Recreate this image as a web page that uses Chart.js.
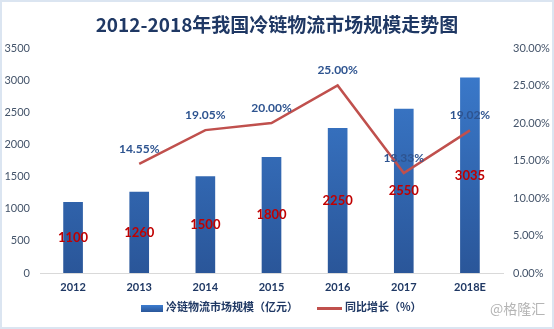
<!DOCTYPE html>
<html>
<head>
<meta charset="utf-8">
<script src="https://cdn.jsdelivr.net/npm/chart.js@4.4.1/dist/chart.umd.min.js"></script>
<style>
  html, body { margin: 0; padding: 0; background: #fff; }
  #wrap { position: relative; width: 554px; height: 329px; overflow: hidden; }
  #frame { position: absolute; left: 0; top: 0; width: 554px; height: 329px; box-sizing: border-box;
           border: 2px solid #dbe5f1; pointer-events: none; }
  #title { position: absolute; left: 0; width: 554px; top: 10px; text-align: center;
           font: bold 19px "Noto Sans CJK SC", "Noto Sans", sans-serif; color: #1f3864; }
  .legend { position: absolute; top: 298px; font: bold 11px "Noto Sans CJK SC", sans-serif; color: #1f3864;
            white-space: nowrap; }
  .legend span.box { display: inline-block; width: 22px; height: 7px; vertical-align: middle;
                     background: linear-gradient(#3c7dd0, #2a5699); margin-right: 3px; }
  .legend span.ln { display: inline-block; width: 25px; height: 3px; vertical-align: middle;
                    background: #c0504d; margin-right: 3px; }
  #mark { position: absolute; left: 490px; top: 298px; font: 14px "Noto Sans CJK SC", sans-serif; color: #b5b5b5; }
</style>
</head>
<body>
<div id="wrap">
  <canvas id="chart" width="554" height="329"></canvas>
  <div id="title">2012-2018年我国冷链物流市场规模走势图</div>
  <div class="legend" style="left:141px"><span class="box"></span>冷链物流市场规模（亿元）</div>
  <div class="legend" style="left:317px"><span class="ln"></span>同比增长（%）</div>
  <div id="mark">@格隆汇</div>
  <div id="frame"></div>
</div>
<script>
const years = ["2012", "2013", "2014", "2015", "2016", "2017", "2018E"];
const marketSize = [1100, 1260, 1500, 1800, 2250, 2550, 3035];
const growthRate = [null, 0.1455, 0.1905, 0.2, 0.25, 0.1333, 0.1902];

const valueLabels = {
  id: "valueLabels",
  afterDatasetsDraw(chart) {
    const ctx = chart.ctx;
    ctx.save();
    ctx.textAlign = "center";
    ctx.textBaseline = "middle";

    // bar values, in the middle of each bar
    ctx.font = "bold 13px Lato, sans-serif";
    ctx.fillStyle = "#c00000";
    chart.getDatasetMeta(0).data.forEach(function (bar, i) {
      ctx.fillText(marketSize[i], bar.x, (bar.y + bar.base) / 2);
    });

    // growth rate above the line points
    ctx.font = "bold 12px Lato, sans-serif";
    ctx.fillStyle = "#2e5490";
    chart.getDatasetMeta(1).data.forEach(function (pt, i) {
      if (growthRate[i] === null) return;
      ctx.fillText((growthRate[i] * 100).toFixed(2) + "%", pt.x, pt.y - 15);
    });
    ctx.restore();
  },
};

const ctx = document.getElementById("chart").getContext("2d");
const grad = ctx.createLinearGradient(0, 48, 0, 273);
grad.addColorStop(0, "#3c7dd0");
grad.addColorStop(1, "#2a5699");

new Chart(ctx, {
  type: "bar",
  data: {
    labels: years,
    datasets: [
      {
        label: "冷链物流市场规模（亿元）",
        data: marketSize,
        backgroundColor: grad,
        barThickness: 19,
        yAxisID: "y",
        order: 2,
      },
      {
        type: "line",
        label: "同比增长（%）",
        data: growthRate,
        borderColor: "#c0504d",
        borderWidth: 2.5,
        pointRadius: 0,
        tension: 0,
        yAxisID: "y1",
        order: 1,
      },
    ],
  },
  options: {
    responsive: false,
    animation: false,
    devicePixelRatio: 1,
    layout: { padding: { top: 48, left: 0, right: 0, bottom: 0 } },
    plugins: {
      legend: { display: false },
      tooltip: { enabled: false },
    },
    scales: {
      x: {
        grid: { display: false, drawTicks: false },
        border: { color: "#d9d9d9" },
        ticks: {
          padding: 8,
          color: "#1f3864",
          font: { family: "Lato", size: 11, weight: "bold" },
        },
        afterFit: function (scale) { scale.height = 56; },
      },
      y: {
        position: "left",
        min: 0,
        max: 3500,
        grid: { display: false, drawTicks: false },
        border: { display: false },
        ticks: {
          stepSize: 500,
          padding: 10,
          color: "#44546a",
          font: { family: "Lato", size: 11 },
          callback: function (v) { return String(v); },
        },
        afterFit: function (scale) { scale.width = 40; },
      },
      y1: {
        position: "right",
        min: 0,
        max: 0.3,
        grid: { display: false, drawTicks: false },
        border: { display: false },
        ticks: {
          stepSize: 0.05,
          padding: 10,
          color: "#44546a",
          font: { family: "Lato", size: 11 },
          callback: function (v) { return (v * 100).toFixed(2) + "%"; },
        },
        afterFit: function (scale) { scale.width = 51; },
      },
    },
  },
  plugins: [valueLabels],
});
</script>
</body>
</html>
